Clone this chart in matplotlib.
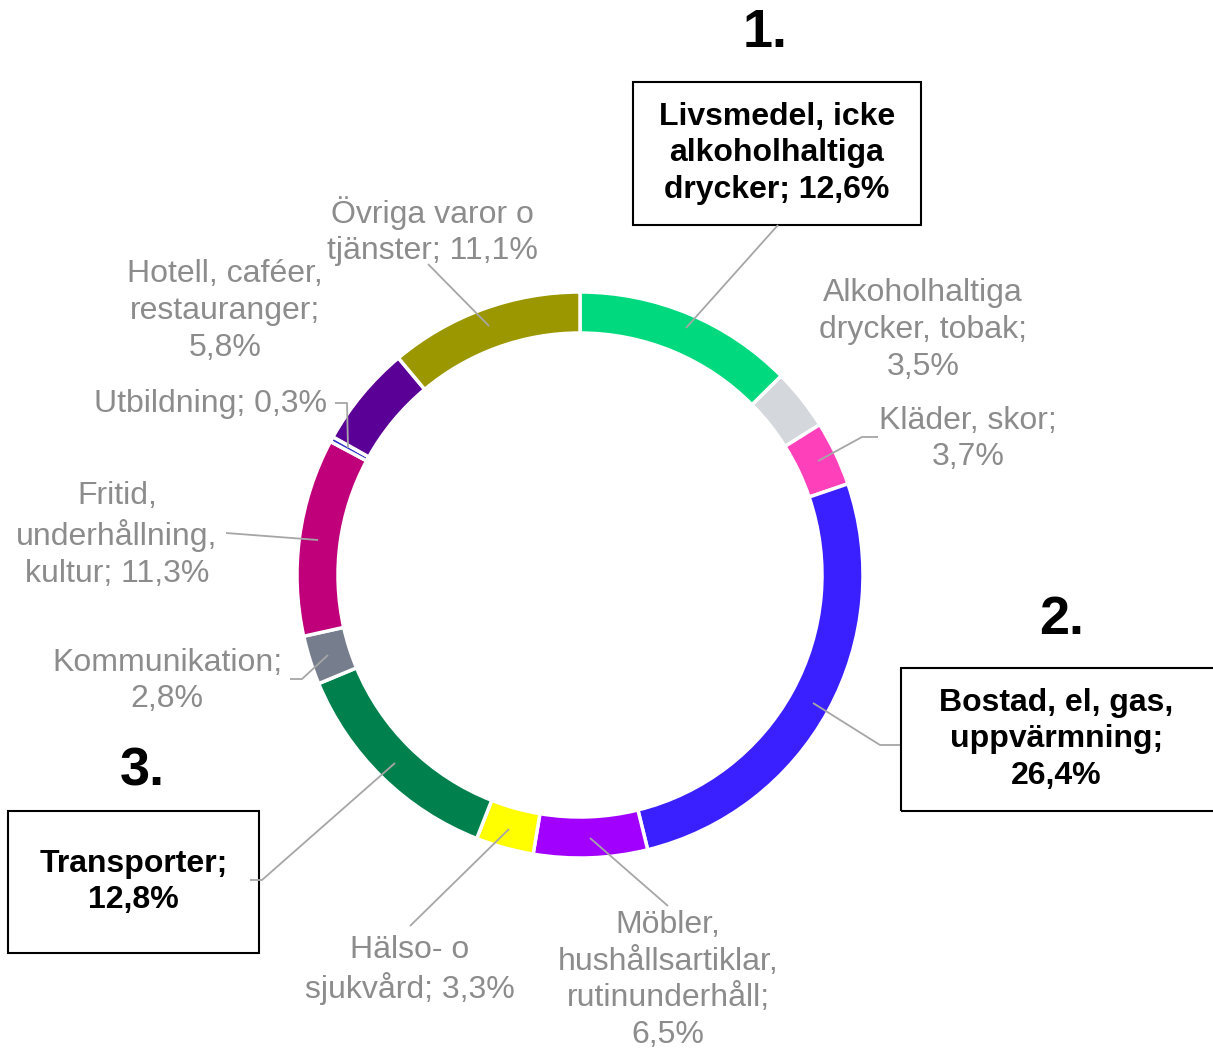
import matplotlib
matplotlib.use("Agg")
import matplotlib.pyplot as plt

plt.rcParams['font.family'] = ['Liberation Sans', 'DejaVu Sans']

# data
categories = ['Livsmedel, icke alkoholhaltiga drycker', 'Alkoholhaltiga drycker, tobak',
              'Kläder, skor', 'Bostad, el, gas, uppvärmning',
              'Möbler, hushållsartiklar, rutinunderhåll', 'Hälso- o sjukvård',
              'Transporter', 'Kommunikation', 'Fritid, underhållning, kultur',
              'Utbildning', 'Hotell, caféer, restauranger', 'Övriga varor o tjänster']
shares = [12.6, 3.5, 3.7, 26.4, 6.5, 3.3, 12.8, 2.8, 11.3, 0.3, 5.8, 11.1]
colors = ['#00D97E', '#D4D7DB', '#FF40BB', '#3A1FFF', '#A100FF', '#FFFF00',
          '#00804D', '#767D8C', '#C0007A', '#3030C8', '#5B0096', '#9A9700']

labels = ['Livsmedel, icke\nalkoholhaltiga\ndrycker; 12,6%',
          'Alkoholhaltiga\ndrycker, tobak;\n3,5%',
          'Kläder, skor;\n3,7%',
          'Bostad, el, gas,\nuppvärmning;\n26,4%',
          'Möbler,\nhushållsartiklar,\nrutinunderhåll;\n6,5%',
          'Hälso- o\nsjukvård; 3,3%',
          'Transporter;\n12,8%',
          'Kommunikation;\n2,8%',
          'Fritid,\nunderhållning,\nkultur; 11,3%',
          'Utbildning; 0,3%',
          'Hotell, caféer,\nrestauranger;\n5,8%',
          'Övriga varor o\ntjänster; 11,1%']
ranks = {0: '1.', 3: '2.', 6: '3.'}

W, H = 1213, 1049
fig = plt.figure(figsize=(W / 100, H / 100), dpi=100)
ax = fig.add_axes([0, 0, 1, 1])

def Y(py):
    return H - py

ax.pie(shares, colors=colors, startangle=90, counterclock=False,
       radius=283, center=(580, Y(575)),
       wedgeprops=dict(width=41, edgecolor='white', linewidth=2.5))

grey = '#8C8C8C'
linec = '#A6A6A6'

# label positions (pixel coords of text centre)
label_pos = {1: (923, 330), 2: (968, 439), 4: (668, 980), 5: (410, 970),
             7: (167, 681), 8: (117, 535), 9: (210, 404), 10: (225, 311),
             11: (432, 231)}
for i, (px, py) in label_pos.items():
    ax.text(px, Y(py), labels[i], ha='center', va='center', color=grey,
            fontsize=23, linespacing=1.29)

# boxed top three
boxes = {0: (633, 82, 921, 225), 3: (901, 668, 1216, 811), 6: (8, 811, 259, 953)}
rank_pos = {0: (765, 33), 3: (1062, 620), 6: (142, 772)}
for i, (x0, y0, x1, y1) in boxes.items():
    ax.add_patch(plt.Rectangle((x0, Y(y1)), x1 - x0, y1 - y0, fill=False,
                               edgecolor='black', linewidth=1.5, clip_on=False))
    ax.text((x0 + x1) / 2 + (0 if i != 3 else -2), Y((y0 + y1) / 2), labels[i],
            ha='center', va='center', color='black', fontsize=23,
            fontweight='bold', linespacing=1.27)
    rx, ry = rank_pos[i]
    ax.text(rx, Y(ry), ranks[i], ha='center', va='center', color='black',
            fontsize=39, fontweight='bold')

# leader lines
leaders = [
    [(686, 328), (778, 225)],
    [(818, 461), (862, 437), (878, 437)],
    [(813, 703), (880, 745), (900, 745)],
    [(590, 838), (668, 906)],
    [(509, 829), (410, 926)],
    [(395, 763), (262, 880), (250, 880)],
    [(328, 655), (302, 679), (290, 679)],
    [(318, 540), (226, 533)],
    [(348, 448), (347, 403), (335, 403)],
    [(489, 326), (428, 264)],
]
for pts in leaders:
    ax.plot([p[0] for p in pts], [Y(p[1]) for p in pts], color=linec,
            linewidth=1.3, solid_capstyle='butt')

ax.set_xlim(0, W)
ax.set_ylim(0, H)
ax.set_aspect('equal')
ax.axis('off')

fig.savefig('out.png', dpi=100)
